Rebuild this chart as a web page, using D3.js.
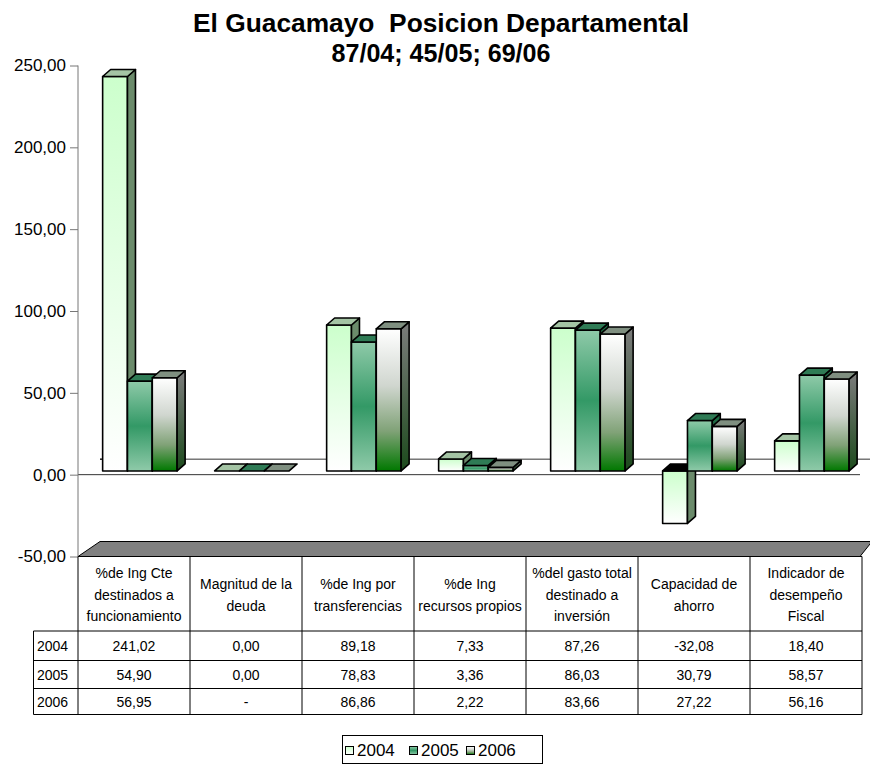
<!DOCTYPE html>
<html><head><meta charset="utf-8">
<script src="https://cdn.jsdelivr.net/npm/d3@7"></script>
<style>body{margin:0;background:#fff} svg{display:block;font-family:Arial,"Liberation Sans",sans-serif}</style>
</head><body><svg id="c" width="870" height="766"></svg>
<script>
// ---- data ----
const years = ["2004", "2005", "2006"];
const categoryLines = [
  ["%de Ing Cte", "destinados a", "funcionamiento"],
  ["Magnitud de la", "deuda"],
  ["%de Ing por", "transferencias"],
  ["%de Ing", "recursos propios"],
  ["%del gasto total", "destinado a", "inversión"],
  ["Capacidad de", "ahorro"],
  ["Indicador de", "desempeño", "Fiscal"]
];
const categories = categoryLines.map(l => l.join(" "));
const values2004 = [241.02, 0.00, 89.18, 7.33, 87.26, -32.08, 18.40];
const values2005 = [54.90, 0.00, 78.83, 3.36, 86.03, 30.79, 58.57];
const values2006 = [56.95, null, 86.86, 2.22, 83.66, 27.22, 56.16];
const tickValues = [-50, 0, 50, 100, 150, 200, 250];
const titleLines = ["El Guacamayo  Posicion Departamental", "87/04; 45/05; 69/06"];

const series = [values2004, values2005, values2006];

// ---- setup ----
const svg = d3.select("#c");
const loc = d3.formatLocale({decimal: ",", thousands: ".", grouping: [3], currency: ["", ""], minus: "-"});
const fmt = loc.format(".2f");

const left = 78, right = 862;
const y = d3.scaleLinear().domain([-50, 250]).range([556.5, 65.5]);
const x0 = d3.scaleBand().domain(categories).range([left, right]).padding(0);
const bw = x0.bandwidth();
const x1 = d3.scaleBand().domain(years).range([bw * 0.22, bw * 0.885]).padding(0);
const barShift = -3.7;            // bars sit slightly behind the front plane
const dx = 8, dy = -7;             // bar depth
const yb = v => y(v) + barShift;

// ---- gradients ----
const defs = svg.append("defs");
function lin(id, stops, horiz) {
  const g = defs.append("linearGradient").attr("id", id)
    .attr("x1", 0).attr("y1", 0).attr("x2", horiz ? 1 : 0).attr("y2", horiz ? 0 : 1);
  stops.forEach(s => g.append("stop").attr("offset", s[0]).attr("stop-color", s[1]));
}
lin("f2004", [[0, "#ccffcc"], [1, "#ffffff"]]);
lin("f2005", [[0, "#8fcaa9"], [0.5, "#339966"], [1, "#8fcaa9"]]);
lin("f2006", [[0, "#ffffff"], [0.4, "#d0d6cf"], [0.72, "#80a277"], [1, "#007800"]]);
lin("s2006", [[0, "#7c7c7c"], [1, "#1c4a1c"]]);
const frontFill = ["url(#f2004)", "url(#f2005)", "url(#f2006)"];
const sideFill = ["#6b8b6b", "#1f6a44", "url(#s2006)"];
const topFill = ["#a4c4a4", "#2f7b55", "#7f8f80"];

// ---- back/front zero lines and floor ----
svg.append("line").attr("x1", 100).attr("x2", 872).attr("y1", y(0) - 15.5).attr("y2", y(0) - 15.5)
  .attr("stroke", "#333").attr("stroke-width", 1);
svg.append("line").attr("x1", 100).attr("x2", 104).attr("y1", y(0) - 15.5).attr("y2", y(0) - 15.5)
  .attr("stroke", "#000");
svg.append("line").attr("x1", left).attr("x2", 860).attr("y1", y(0)).attr("y2", y(0))
  .attr("stroke", "#333").attr("stroke-width", 1);
svg.append("polygon")
  .attr("points", [[left, y(-50)], [100, y(-50) - 15], [872, y(-50) - 15], [860, y(-50)]].map(p => p.join(",")).join(" "))
  .attr("fill", "#808080").attr("stroke", "#000").attr("stroke-width", 1);

// ---- bars ----
const gBars = svg.append("g").attr("stroke", "#000").attr("stroke-width", 1.6).attr("stroke-linejoin", "round");
categories.forEach((c, i) => {
  years.forEach((yr, j) => {
    const raw = series[j][i];
    const v = raw == null ? 0 : raw;
    const x = x0(c) + x1(yr), w = x1.bandwidth();
    const z = yb(0), t = yb(v);
    const top = Math.min(z, t), bot = Math.max(z, t);
    const g = gBars.append("g");
    const pts = a => a.map(p => p.join(",")).join(" ");
    if (v !== 0) {
      g.append("rect").attr("x", x).attr("y", top).attr("width", w).attr("height", bot - top)
        .attr("fill", frontFill[j]);
      g.append("polygon").attr("points", pts([[x + w, top], [x + w + dx, top + dy], [x + w + dx, bot + dy], [x + w, bot]]))
        .attr("fill", sideFill[j]);
    }
    g.append("polygon").attr("points", pts([[x, top], [x + dx, top + dy], [x + w + dx, top + dy], [x + w, top]]))
      .attr("fill", v < 0 ? "#000" : topFill[j]);
  });
});

// ---- y axis ----
const axis = d3.axisLeft(y).tickValues(tickValues).tickFormat(fmt).tickSize(8).tickPadding(4);
const ga = svg.append("g").attr("transform", `translate(${left},0)`).call(axis);
ga.select(".domain").attr("stroke", "#777").attr("d", `M0,${y(250)}V${y(-50)}`);
ga.selectAll(".tick line").attr("stroke", "#777");
ga.selectAll(".tick text").attr("font-size", 17).attr("fill", "#000").attr("font-family", "Arial, 'Liberation Sans', sans-serif");

// ---- data table ----
const tTop = y(-50), tHead = 631, rowH = [631, 660.5, 688.5, 714.5];
const tg = svg.append("g").attr("stroke", "#000").attr("stroke-width", 1);
const colEdges = categories.map(c => x0(c)).concat([right]);
colEdges.forEach(xx => tg.append("line").attr("x1", xx).attr("x2", xx).attr("y1", tTop).attr("y2", rowH[3]));
tg.append("line").attr("x1", 33.5).attr("x2", 33.5).attr("y1", tHead).attr("y2", rowH[3]);
tg.append("line").attr("x1", left).attr("x2", right).attr("y1", tTop).attr("y2", tTop);
rowH.forEach(yy => tg.append("line").attr("x1", 33.5).attr("x2", right).attr("y1", yy).attr("y2", yy));

const txt = svg.append("g").attr("font-size", 14).attr("fill", "#000");
categories.forEach((c, i) => {
  const lines = categoryLines[i];
  const cx = x0(c) + bw / 2;
  const lh = 21.5;
  const cy = (tTop + tHead) / 2 + 1;
  lines.forEach((l, k) => {
    txt.append("text").attr("x", cx).attr("y", cy + (k - (lines.length - 1) / 2) * lh + 5)
      .attr("text-anchor", "middle").text(l);
  });
  series.forEach((s, j) => {
    const v = s[i];
    txt.append("text").attr("x", cx).attr("y", (rowH[j] + rowH[j + 1]) / 2 + 5)
      .attr("text-anchor", "middle").text(v == null ? "-" : fmt(v));
  });
});
years.forEach((yr, j) => {
  txt.append("text").attr("x", 37).attr("y", (rowH[j] + rowH[j + 1]) / 2 + 5).text(yr);
});

// ---- title ----
const tt = svg.append("g").attr("font-weight", "bold").attr("font-size", 25).attr("fill", "#000");
const titleY = [32, 62], titleW = [496, 219];
titleLines.forEach((l, k) => {
  tt.append("text").attr("x", 441).attr("y", titleY[k]).attr("text-anchor", "middle")
    .style("white-space", "pre").attr("textLength", titleW[k]).attr("lengthAdjust", "spacingAndGlyphs").text(l);
});

// ---- legend ----
const lg = svg.append("g");
lg.append("rect").attr("x", 342.5).attr("y", 735.5).attr("width", 200).attr("height", 28)
  .attr("fill", "#fff").attr("stroke", "#000").attr("stroke-width", 1);
const legX = [345, 409, 466];
years.forEach((yr, j) => {
  lg.append("rect").attr("x", legX[j] + 0.5).attr("y", 746.5).attr("width", 8).attr("height", 8)
    .attr("fill", frontFill[j]).attr("stroke", "#000").attr("stroke-width", 1);
  lg.append("text").attr("x", legX[j] + 12).attr("y", 756).attr("font-size", 17).text(yr);
});
</script></body></html>
